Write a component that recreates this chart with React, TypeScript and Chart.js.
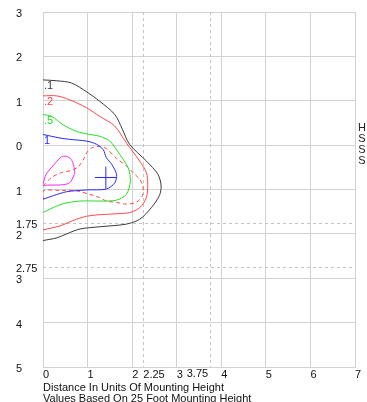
import { useEffect, useRef } from 'react';
import { Chart, registerables } from 'chart.js';

Chart.register(...registerables);

// Axis ticks
const xTicks = [0, 1, 2, 2.25, 3, 3.75, 4, 5, 6, 7];
const yTicks = [-3, -2, -1, 0, 1, 1.75, 2, 2.75, 3, 4, 5];
const dashedX = [2.25, 3.75];
const dashedY = [1.75, 2.75];
// x tick labels that sit to the left of their tick
const leftPlacedX = [3.75];

// Contour .1 (black)
const c01X = [0, 0.31, 0.64, 0.98, 1.27, 1.61, 1.78, 1.94, 2.32, 2.58, 2.65, 2.61, 2.43, 2.17, 1.87, 1.27, 0.83, 0.53, 0.31, 0];
const c01Y = [-1.47, -1.45, -1.4, -1.2, -0.99, -0.69, -0.36, -0.02, 0.36, 0.66, 0.92, 1.14, 1.41, 1.67, 1.78, 1.84, 1.89, 2.0, 2.09, 2.15];

// Contour .2 (red)
const c02X = [0, 0.31, 0.6, 0.98, 1.27, 1.61, 1.87, 2.17, 2.32, 2.35, 2.32, 2.17, 1.94, 1.57, 1.05, 0.75, 0.38, 0];
const c02Y = [-1.11, -1.11, -1.02, -0.84, -0.65, -0.43, -0.05, 0.36, 0.62, 0.88, 1.18, 1.41, 1.52, 1.55, 1.59, 1.67, 1.82, 1.91];

// Contour .5 (green)
const c05X = [0, 0.19, 0.45, 0.75, 1.05, 1.27, 1.5, 1.72, 1.91, 1.96, 1.87, 1.65, 1.27, 0.83, 0.45, 0.16, 0];
const c05Y = [-0.69, -0.65, -0.46, -0.31, -0.24, -0.2, -0.09, 0.21, 0.51, 0.81, 1.11, 1.24, 1.26, 1.26, 1.32, 1.44, 1.52];

// Contour 1 (blue)
const c1X = [0, 0.38, 0.6, 0.98, 1.2, 1.35, 1.42, 1.54, 1.65, 1.61, 1.42, 0.98, 0.53, 0.23, 0];
const c1Y = [-0.24, -0.16, -0.13, -0.09, -0.02, 0.1, 0.28, 0.43, 0.66, 0.85, 0.99, 1.01, 1.05, 1.14, 1.22];

// Contour 2 (red dashed)
const c2X = [0, 0.19, 0.41, 0.63, 0.8, 0.92, 1.0, 1.12, 1.27, 1.42, 1.65, 1.87, 2.02, 2.17, 2.24, 2.23, 2.09, 1.87, 1.65, 1.42, 1.27, 1.05, 0.75, 0.38, 0, 0];
const c2Y = [0.92, 0.73, 0.62, 0.57, 0.48, 0.3, 0.14, 0.05, 0.03, 0.08, 0.3, 0.47, 0.62, 0.77, 0.92, 1.14, 1.29, 1.33, 1.29, 1.26, 1.18, 1.11, 1.03, 1.02, 1.03, 1.22];

// Contour 5 (magenta)
const c5X = [0, 0.07, 0.22, 0.41, 0.52, 0.63, 0.69, 0.71, 0.63, 0.56, 0.34, 0.11, 0];
const c5Y = [0.88, 0.66, 0.47, 0.27, 0.25, 0.32, 0.47, 0.62, 0.81, 0.87, 0.9, 0.9, 0.92];

// Max point marker
const maxX = [1.41];
const maxY = [0.73];

const labels = ['.1', '.2', '.5', '1', '2', '5'];
const colors = ['#3a3a3a', '#ff4848', '#22e022', '#2828ff', '#ff4848', '#ff22ff'];

const zip = (xs: number[], ys: number[]) => xs.map((x, i) => ({ x, y: ys[i] }));

const FONT = '"Liberation Sans", Arial, sans-serif';

export default function App() {
  const ref = useRef<HTMLCanvasElement | null>(null);

  useEffect(() => {
    if (!ref.current) return;
    const series = [
      { data: zip(c01X, c01Y), color: colors[0], dash: [] as number[], label: labels[0], showLabel: true },
      { data: zip(c02X, c02Y), color: colors[1], dash: [], label: labels[1], showLabel: true },
      { data: zip(c05X, c05Y), color: colors[2], dash: [], label: labels[2], showLabel: true },
      { data: zip(c1X, c1Y), color: colors[3], dash: [], label: labels[3], showLabel: true },
      { data: zip(c2X, c2Y), color: colors[4], dash: [4, 3], label: labels[4], showLabel: false },
      { data: zip(c5X, c5Y), color: colors[5], dash: [], label: labels[5], showLabel: false },
    ];

    const datasets: any[] = series.map((s) => ({
      label: s.label,
      data: s.data,
      showLine: true,
      borderColor: s.color,
      borderWidth: 1,
      borderDash: s.dash,
      pointRadius: 0,
      tension: 0.3,
      fill: false,
    }));
    datasets.push({
      label: 'max',
      data: zip(maxX, maxY),
      showLine: false,
      pointStyle: 'cross',
      pointRadius: 11,
      borderColor: colors[3],
      backgroundColor: colors[3],
      pointBorderColor: colors[3],
      pointBackgroundColor: colors[3],
      pointBorderWidth: 1,
      borderWidth: 1,
    });

    const refLines = {
      id: 'refLines',
      beforeDatasetsDraw(chart: any) {
        const { ctx, chartArea, scales } = chart;
        ctx.save();
        ctx.strokeStyle = '#c4c4c4';
        ctx.lineWidth = 1;
        ctx.setLineDash([3, 3]);
        dashedX.forEach((v) => {
          const x = Math.round(scales.x.getPixelForValue(v)) + 0.5;
          ctx.beginPath();
          ctx.moveTo(x, chartArea.top);
          ctx.lineTo(x, chartArea.bottom);
          ctx.stroke();
        });
        dashedY.forEach((v) => {
          const y = Math.round(scales.y.getPixelForValue(v)) + 0.5;
          ctx.beginPath();
          ctx.moveTo(chartArea.left, y);
          ctx.lineTo(chartArea.right, y);
          ctx.stroke();
        });
        ctx.restore();
      },
    };

    const leftTickLabels = {
      id: 'leftTickLabels',
      afterDraw(chart: any) {
        const { ctx, chartArea, scales } = chart;
        ctx.save();
        ctx.font = `11px ${FONT}`;
        ctx.fillStyle = '#111';
        ctx.textAlign = 'right';
        ctx.textBaseline = 'top';
        leftPlacedX.forEach((v) => {
          const x = scales.x.getPixelForValue(v);
          ctx.fillText(String(v), x - 2, chartArea.bottom + 1);
        });
        ctx.restore();
      },
    };

    const contourLabels = {
      id: 'contourLabels',
      afterDatasetsDraw(chart: any) {
        const { ctx, scales } = chart;
        ctx.save();
        ctx.font = `11px ${FONT}`;
        ctx.textAlign = 'left';
        ctx.textBaseline = 'top';
        series.forEach((s) => {
          if (!s.showLabel) return;
          const p = s.data[0];
          const x = scales.x.getPixelForValue(p.x);
          const y = scales.y.getPixelForValue(p.y);
          ctx.fillStyle = s.color;
          ctx.fillText(s.label, x + 1, y + 1);
        });
        ctx.restore();
      },
    };

    const sideText = {
      id: 'sideText',
      afterDraw(chart: any) {
        const { ctx, chartArea } = chart;
        ctx.save();
        ctx.font = `11px ${FONT}`;
        ctx.fillStyle = '#222';
        ctx.textAlign = 'center';
        ctx.textBaseline = 'top';
        const letters = ['H', 'S', 'S', 'S'];
        letters.forEach((ch, i) => {
          ctx.fillText(ch, chartArea.right + 7, 122 + i * 11);
        });
        ctx.restore();
      },
    };

    const gridColor = '#d2d2d2';

    const chart = new Chart(ref.current, {
      type: 'scatter',
      data: { datasets },
      plugins: [refLines, contourLabels, sideText, leftTickLabels],
      options: {
        animation: false,
        responsive: false,
        maintainAspectRatio: false,
        layout: { padding: { left: 16, right: 11, top: 10, bottom: 0 } },
        plugins: {
          legend: { display: false },
          tooltip: { enabled: false },
        },
        scales: {
          x: {
            type: 'linear',
            min: 0,
            max: 7,
            afterBuildTicks: (scale: any) => {
              scale.ticks = xTicks.map((v) => ({ value: v }));
            },
            afterFit: (scale: any) => {
              scale.height = 37;
            },
            grid: {
              drawTicks: false,
              color: (ctx: any) => (dashedX.includes(ctx.tick?.value) ? 'rgba(0,0,0,0)' : gridColor),
            },
            border: { display: true, color: gridColor },
            ticks: {
              autoSkip: false,
              maxRotation: 0,
              minRotation: 0,
              align: 'start',
              padding: 1,
              color: '#111',
              font: { family: FONT, size: 11 },
              callback: (v: any) => (leftPlacedX.includes(Number(v)) ? '' : String(v)),
            },
            title: {
              display: true,
              text: ['Distance In Units Of Mounting Height', 'Values Based On 25 Foot Mounting Height'],
              align: 'start',
              color: '#111',
              font: { family: FONT, size: 11, lineHeight: 1.0 },
              padding: { top: 0, bottom: 0 },
            },
          },
          y: {
            type: 'linear',
            min: -3,
            max: 5,
            reverse: true,
            afterBuildTicks: (scale: any) => {
              scale.ticks = yTicks.map((v) => ({ value: v }));
            },
            afterFit: (scale: any) => {
              scale.width = 27;
            },
            grid: {
              drawTicks: false,
              color: (ctx: any) => (dashedY.includes(ctx.tick?.value) ? 'rgba(0,0,0,0)' : gridColor),
            },
            border: { display: true, color: gridColor },
            ticks: {
              autoSkip: false,
              crossAlign: 'far',
              labelOffset: 2,
              padding: 0,
              color: '#111',
              font: { family: FONT, size: 11 },
              callback: (v: any) => String(Math.abs(Number(v))),
            },
          },
        },
      } as any,
    });

    return () => chart.destroy();
  }, []);

  return (
    <div style={{ position: 'fixed', left: 0, top: 0, width: 367, height: 402, overflow: 'hidden', background: '#fff' }}>
      <canvas ref={ref} width={367} height={404} style={{ display: 'block', width: 367, height: 404 }} />
    </div>
  );
}
